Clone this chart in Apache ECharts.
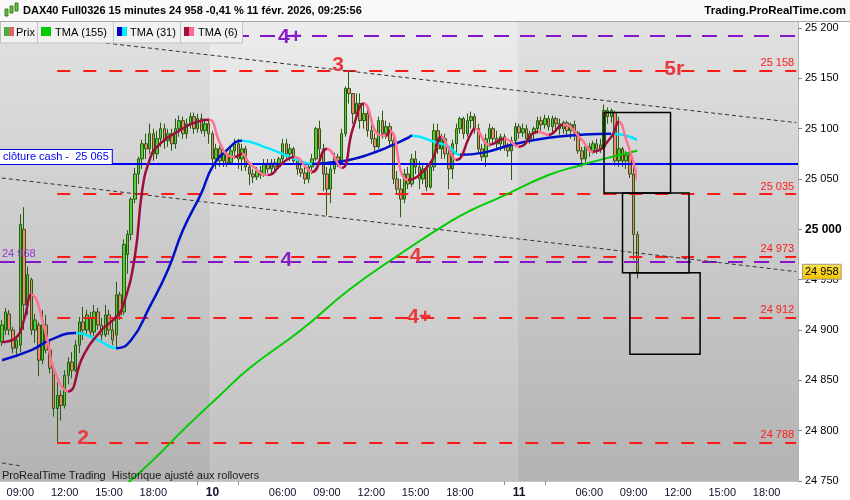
<!DOCTYPE html>
<html><head><meta charset="utf-8">
<script src="https://cdn.jsdelivr.net/npm/echarts@6/dist/echarts.min.js"></script>
<style>html,body{margin:0;padding:0;background:#fff}#c{width:850px;height:500px}</style>
</head><body><div id="c"></div>
<script>
// ---------- data ----------
const sessions = [['9','07:45','21:45'],['10','01:15','21:45'],['11','01:15','20:00']];
const labelTimes = ['06:00','09:00','12:00','15:00','18:00'];
const minorTickTimes = ['03:00','21:00'];
const yTickValues = [24750,24800,24850,24900,24950,25000,25050,25100,25150,25200];

// [open, close, low, high] per 15-minute bar
const ohlc = [
// day 9
[24888,24905,24884,24910],[24900,24918,24895,24922],[24916,24900,24895,24920],[24900,24882,24877,24903],
[24882,24890,24873,24893],[24885,25005,24878,25015],[25000,24925,24900,25022],[24925,24955,24915,24963],
[24950,24900,24895,24952],[24900,24910,24887,24916],[24905,24870,24854,24908],[24870,24905,24866,24920],
[24905,24880,24877,24915],[24880,24862,24857,24890],[24862,24822,24814,24865],[24822,24835,24788,24848],
[24835,24825,24810,24840],[24825,24855,24822,24860],[24855,24868,24846,24873],[24868,24860,24852,24878],
[24860,24885,24858,24890],[24885,24908,24877,24913],[24908,24900,24890,24923],[24900,24915,24895,24920],
[24912,24898,24893,24918],[24898,24918,24894,24925],[24918,24905,24900,24922],[24905,24895,24890,24912],
[24895,24915,24893,24925],[24915,24900,24895,24920],[24900,24890,24885,24910],[24895,24935,24883,24948],
[24935,24915,24910,24938],[24918,24985,24915,24990],[24975,24995,24956,24999],[24995,25030,24989,25032],
[25030,25055,25026,25061],[25055,25070,25045,25072],[25070,25085,25060,25089],[25085,25080,25070,25095],
[25080,25095,25075,25105],[25095,25075,25068,25100],[25075,25090,25070,25098],[25090,25100,25082,25106],
[25100,25088,25080,25105],[25088,25095,25082,25100],[25095,25085,25078,25100],[25085,25100,25080,25110],
[25100,25108,25092,25113],[25108,25095,25090,25112],[25095,25105,25090,25110],[25105,25112,25100,25116],
[25112,25100,25095,25116],[25100,25110,25096,25115],[25110,25098,25095,25115],[25098,25105,25092,25110],
[25105,25095,25085,25108],
// day 10
[25095,25070,25062,25098],[25070,25080,25060,25085],[25080,25068,25062,25083],[25068,25075,25062,25080],
[25075,25066,25062,25080],[25066,25078,25064,25082],[25078,25085,25070,25090],[25085,25070,25060,25090],
[25070,25080,25058,25085],[25080,25062,25058,25083],[25062,25055,25044,25066],[25055,25052,25046,25060],
[25052,25058,25049,25062],[25058,25054,25050,25063],[25054,25065,25052,25070],[25065,25060,25056,25070],
[25060,25066,25056,25070],[25066,25062,25058,25070],[25062,25070,25060,25072],[25070,25085,25066,25090],
[25085,25075,25070,25090],[25075,25080,25068,25085],[25080,25068,25065,25082],[25068,25060,25054,25070],
[25060,25056,25052,25066],[25056,25050,25045,25062],[25050,25062,25046,25066],[25062,25070,25055,25075],
[25070,25100,25068,25102],[25100,25080,25070,25108],[25080,25055,25038,25085],[25055,25040,25014,25062],
[25040,25060,25026,25066],[25060,25072,25055,25076],[25072,25066,25062,25075],[25066,25095,25064,25100],
[25095,25140,25092,25142],[25140,25135,25125,25158],[25135,25115,25105,25135],[25115,25125,25110,25135],
[25125,25108,25100,25135],[25108,25115,25100,25125],[25115,25098,25092,25120],[25098,25090,25085,25105],
[25090,25082,25078,25095],[25082,25108,25080,25112],[25108,25095,25090,25118],[25095,25102,25090,25108],
[25102,25088,25082,25106],[25088,25050,25045,25092],[25050,25040,25035,25058],[25040,25030,25012,25050],
[25030,25055,25026,25060],[25055,25045,25040,25062],[25045,25070,25042,25075],[25070,25062,25055,25078],
[25062,25050,25040,25068],[25050,25060,25045,25065],[25060,25042,25038,25065],[25042,25062,25040,25068],
[25062,25098,25058,25105],[25098,25080,25075,25105],[25080,25090,25070,25095],[25090,25075,25070,25095],
[25075,25060,25040,25082],[25060,25085,25050,25089],[25085,25100,25075,25105],[25100,25110,25095,25112],
[25110,25095,25090,25112],[25095,25108,25092,25115],[25108,25112,25100,25117],[25112,25100,25095,25115],
[25100,25080,25075,25105],[25080,25072,25068,25085],[25072,25090,25062,25095],[25090,25100,25082,25105],
[25100,25090,25085,25102],[25090,25085,25080,25098],[25085,25092,25078,25095],[25092,25082,25078,25095],
[25082,25078,25072,25086],[25078,25088,25049,25092],[25088,25102,25085,25106],
// day 11
[25102,25096,25090,25105],[25096,25100,25092,25105],[25100,25090,25085,25104],[25090,25095,25085,25098],
[25095,25100,25088,25102],[25100,25108,25095,25112],[25108,25104,25098,25112],[25104,25110,25100,25114],
[25110,25102,25098,25113],[25102,25110,25096,25113],[25110,25105,25098,25112],[25105,25100,25094,25110],
[25100,25106,25095,25108],[25106,25098,25092,25108],[25098,25104,25090,25106],[25104,25096,25088,25108],
[25096,25078,25075,25098],[25078,25070,25062,25082],[25070,25082,25066,25085],[25082,25078,25072,25086],
[25078,25085,25075,25088],[25085,25080,25075,25090],[25080,25084,25076,25090],[25082,25118,25079,25124],
[25118,25112,25105,25121],[25112,25118,25106,25120],[25116,25068,25063,25118],[25068,25080,25062,25112],
[25080,25068,25062,25082],[25068,25074,25060,25078],[25074,25055,25051,25080],[25055,24995,24970,25062],
[24995,24958,24951,24998]
];

// indicator lines: [bar index, value]
const tma155 = [[34,24748],[41,24771],[50,24804],[59,24835],[67,24862],[81,24900],[94,24940],[108,24976],
  [121,25007],[127,25019],[135,25032],[148,25054],[157,25064],[164,25071],[172,25078]];
const tma31 = [[0,24870],[8,24880],[13,24890],[20,24897],[26,24890],[31,24882],[35,24890],[40,24923],[45,24960],
  [49,24999],[54,25036],[57,25062],[61,25079],[65,25088],[71,25082],[76,25075],[80,25069],[84,25065],[88,25066],
  [94,25069],[99,25074],[104,25081],[110,25091],[111,25093],[117,25087],[121,25082],[124,25074],[130,25076],
  [139,25085],[148,25091],[157,25094],[165,25095],[168,25094],[172,25089]];
const tma6 = [[0,24888],[4,24893],[6,24910],[8,24935],[12,24895],[14,24862],[18,24839],[22,24874],[27,24900],
  [31,24913],[33,24926],[36,24973],[38,25039],[40,25069],[42,25082],[48,25098],[54,25108],[56,25109],[59,25086],
  [61,25074],[63,25072],[65,25075],[67,25066],[72,25054],[76,25066],[79,25072],[83,25059],[84,25057],[88,25080],
  [92,25061],[95,25100],[98,25125],[102,25094],[104,25093],[105,25098],[110,25049],[116,25066],[119,25092],
  [121,25080],[123,25069],[127,25095],[128,25100],[132,25084],[136,25090],[140,25082],[145,25097],[148,25094],
  [152,25104],[157,25089],[160,25077],[165,25092],[167,25107],[169,25089],[171,25066],[172,25049]];

const redLevels = [25158, 25035, 24973, 24912, 24788];
const redLevelStart = 15;
const purpleLevels = [25192, 24968];
const cashClose = 25065;
const lastPrice = 24958;
const upperTrend = [[0,25197],[215,25106]];
const lowerTrend = [[0,25051],[215,24958]];
const bottomTrend = [[0,24768],[5,24765]];
const boxes = [[163.3,25116,181.4,25036],[168.4,25036,186.3,24957],[170.3,24957,188.5,24876]];
const redMarks = [['3',91,25158],['5r',182,25158],['2',22,24788],['4',112,24973],['4+',113,24912]];
const purpleMarks = [['4',77,24968],['4+',78,25192]];

// ---------- build ----------
const Y_MIN = 24750, Y_MAX = 25206;
const fmt = v => String(v).replace(/\B(?=(\d{3})+(?!\d))/g, ' ');
const hm = s => { const [h, m] = s.split(':').map(Number); return h * 60 + m; };
const hhmm = t => String(Math.floor(t / 60)).padStart(2, '0') + ':' + String(t % 60).padStart(2, '0');
const categories = [], labelAt = new Map(), tickAt = new Set(), dayRanges = [];
sessions.forEach(([day, first, last], si) => {
  const startIdx = categories.length;
  for (let t = hm(first); t <= hm(last); t += 15) {
    const idx = categories.length, time = hhmm(t);
    categories.push(day + ' ' + time);
    if (t === hm(first) && si > 0) labelAt.set(idx, '{d|' + day + '}');
    else if (labelTimes.includes(time)) labelAt.set(idx, time);
    if (minorTickTimes.includes(time)) tickAt.add(idx);
  }
  dayRanges.push([startIdx, categories.length - 1, si % 2]);
});
const lastIdx = categories.length - 1;

function dirPieces(pts, upC, downC) {
  const pieces = [];
  for (let k = 0; k < pts.length - 1; k++) {
    const c = pts[k + 1][1] >= pts[k][1] ? upC : downC;
    const last = pieces[pieces.length - 1];
    if (last && last.color === c) last.lt = pts[k + 1][0];
    else pieces.push({ gte: pts[k][0], lt: pts[k + 1][0], color: c });
  }
  const p = pieces[pieces.length - 1]; p.lte = p.lt; delete p.lt;
  return pieces;
}

const RED = '#ff1a1a', PURPLE = '#8316c9', BLUE = '#0000f0';
const CLEAR = 'rgba(0,0,0,0)';
const bgGrad = alt => new echarts.graphic.LinearGradient(0, 0, 0, 1, alt
  ? [{ offset: 0, color: '#ececec' }, { offset: 1, color: '#bfbfbf' }]
  : [{ offset: 0, color: '#e1e1e1' }, { offset: 1, color: '#b3b3b3' }]);

const series = [];
series.push({
  type: 'custom', z: 0, silent: true, clip: true,
  data: dayRanges.map(r => [r[0], Y_MAX, r[1], r[2]]),
  encode: { x: 0, y: 1 },
  renderItem: (params, api) => {
    const r = dayRanges[params.dataIndex];
    const bw = api.size([1, 0])[0];
    const p0 = api.coord([r[0], Y_MAX]), p1 = api.coord([r[1], Y_MIN]);
    return { type: 'rect', shape: { x: p0[0] - bw / 2, y: p0[1], width: p1[0] - p0[0] + bw, height: p1[1] - p0[1] },
      style: { fill: bgGrad(r[2] === 1) } };
  }
});
const dashRed = [13, 13], dashPurple = [15, 11];
const levelMarks = [];
redLevels.forEach(v => levelMarks.push([
  { coord: [redLevelStart, v], lineStyle: { color: RED, width: 2, type: dashRed },
    label: { show: true, position: 'insideEndTop', distance: [2, 2], formatter: fmt(v), color: RED, fontSize: 11, fontFamily: 'Liberation Sans, Arial' } },
  { coord: [lastIdx, v] }
]));
purpleLevels.forEach((v, k) => levelMarks.push({
  yAxis: v, lineStyle: { color: PURPLE, width: 2, type: dashPurple },
  label: k === 1 ? { show: true, position: 'insideStartTop', distance: [2, 2], formatter: fmt(v), color: '#9038d0', fontSize: 11, fontFamily: 'Liberation Sans, Arial' } : { show: false }
}));
levelMarks.push({
  yAxis: cashClose, lineStyle: { color: BLUE, width: 2, type: 'solid' },
  label: { show: true, position: 'insideStartTop', distance: [0, 0], formatter: 'clôture cash -  ' + fmt(cashClose),
    color: BLUE, fontSize: 11, fontFamily: 'Liberation Sans, Arial', backgroundColor: '#fff', borderColor: BLUE, borderWidth: 1, padding: [2, 3, 1, 3] }
});
levelMarks.push({
  yAxis: lastPrice, lineStyle: { color: CLEAR, width: 1, opacity: 1 },
  label: { show: true, position: 'end', distance: 5, formatter: fmt(lastPrice), color: '#000', fontSize: 11, fontFamily: 'Liberation Sans, Arial', opacity: 1,
    backgroundColor: new echarts.graphic.LinearGradient(0, 0, 0, 1, [{ offset: 0, color: '#ffe44a' }, { offset: 1, color: '#f2c200' }]),
    borderColor: '#9a9a9a', borderWidth: 1, padding: [2, 2, 1, 2] }
});
series.push({
  type: 'candlestick', z: 2, barWidth: 3,
  data: ohlc,
  itemStyle: { color: '#55cf33', color0: '#f08676', borderColor: '#2b5a12', borderColor0: '#2b5a12', borderWidth: 1 },
  markLine: { symbol: 'none', silent: true, animation: false, data: levelMarks }
});
const trendStyle = { color: '#333', width: 1, type: [4, 3] };
[upperTrend, lowerTrend, bottomTrend].forEach(t => series.push({ type: 'line', z: 6, data: t, showSymbol: false, silent: true, lineStyle: trendStyle }));
const maIdx = {};
maIdx.t155 = series.length;
series.push({ type: 'line', z: 7, data: tma155, smooth: true, showSymbol: false, lineStyle: { width: 2, color: '#00cc00' } });
maIdx.t31 = series.length;
series.push({ type: 'line', z: 7, data: tma31, smooth: true, showSymbol: false, lineStyle: { width: 2.5 } });
maIdx.t6 = series.length;
series.push({ type: 'line', z: 8, data: tma6, smooth: true, showSymbol: false, lineStyle: { width: 2.5 } });
series.push({
  type: 'custom', z: 9, silent: true,
  data: boxes.map(b => [b[0], b[1]]), encode: { x: 0, y: 1 },
  renderItem: (params, api) => {
    const b = boxes[params.dataIndex];
    const p0 = api.coord([b[0], b[1]]), p1 = api.coord([b[2], b[3]]);
    return { type: 'rect', shape: { x: p0[0], y: p0[1], width: p1[0] - p0[0], height: p1[1] - p0[1] },
      style: { fill: 'none', stroke: '#000', lineWidth: 1.5 } };
  }
});
const markSeries = (marks, color, offs) => ({
  type: 'scatter', z: 10, silent: true, symbolSize: 1, itemStyle: { color: CLEAR },
  data: marks.map((m, k) => ({ value: [m[1], m[2]], label: { offset: [0, offs[k]] } })),
  label: { show: true, position: 'inside', formatter: p => marks[p.dataIndex][0], color, opacity: 1, fontSize: 21, fontWeight: 'bold', fontFamily: 'Liberation Sans, Arial' }
});
series.push(markSeries(redMarks, '#e8383a', [-5, -1, -5, 0, -1]));
series.push(markSeries(purpleMarks, '#8a1cc8', [-1, 1]));

const F = 'Liberation Sans, Arial, sans-serif';
const legendBoxes = [[0, 37, 'Prix', '#3cb43c', '#e06464', 16], [37, 113, 'TMA (155)', '#00cc00', '#00cc00', 55],
  [113, 180, 'TMA (31)', '#0000cc', '#00f0ff', 130], [180, 242, 'TMA (6)', '#a0103c', '#ff6a8e', 198]];
const graphics = [
  { type: 'rect', shape: { x: 0, y: 0, width: 850, height: 21 }, style: { fill: '#f9f9f9' }, z: 100 },
  { type: 'line', shape: { x1: 0, y1: 21.5, x2: 850, y2: 21.5 }, style: { stroke: '#a8a8a8', lineWidth: 1 }, z: 101 },
  { type: 'rect', shape: { x: 5, y: 9, width: 3, height: 7 }, style: { fill: '#55cf33', stroke: '#2b5a12', lineWidth: 0.8 }, z: 101 },
  { type: 'rect', shape: { x: 10, y: 6, width: 3, height: 7 }, style: { fill: '#55cf33', stroke: '#2b5a12', lineWidth: 0.8 }, z: 101 },
  { type: 'rect', shape: { x: 15, y: 3, width: 3, height: 8 }, style: { fill: '#55cf33', stroke: '#2b5a12', lineWidth: 0.8 }, z: 101 },
  { type: 'text', x: 23, y: 11, style: { text: 'DAX40 Full0326 15 minutes 24 958 -0,41 % 11 févr. 2026, 09:25:56', font: 'bold 11px ' + F, fill: '#000', textVerticalAlign: 'middle' }, z: 102 },
  { type: 'text', x: 846, y: 11, style: { text: 'Trading.ProRealTime.com', font: 'bold 11.5px ' + F, fill: '#000', textAlign: 'right', textVerticalAlign: 'middle' }, z: 102 },
  { type: 'text', x: 2, y: 476, style: { text: 'ProRealTime Trading  Historique ajusté aux rollovers', font: '11px ' + F, fill: '#1a1a1a', textVerticalAlign: 'middle' }, z: 102 }
];
legendBoxes.forEach(b => {
  graphics.push({ type: 'rect', shape: { x: b[0] + 0.5, y: 21.5, width: b[1] - b[0], height: 21.5 }, style: { fill: '#f1f1f1', stroke: '#c2c2c2', lineWidth: 1 }, z: 100 });
  graphics.push({ type: 'rect', shape: { x: b[0] + 4, y: 27, width: 5, height: 9 }, style: { fill: b[3] }, z: 101 });
  graphics.push({ type: 'rect', shape: { x: b[0] + 9, y: 27, width: 5, height: 9 }, style: { fill: b[4] }, z: 101 });
  graphics.push({ type: 'text', x: b[5], y: 32.5, style: { text: b[2], font: '11px ' + F, fill: '#000', textVerticalAlign: 'middle' }, z: 101 });
});

const chart = echarts.init(document.getElementById('c'), null, { renderer: 'canvas' });
chart.setOption({
  animation: false,
  backgroundColor: '#fff',
  grid: { left: 0, right: 52, top: 22, bottom: 19, containLabel: false },
  xAxis: {
    type: 'category', data: categories, boundaryGap: true,
    axisLine: { show: true, lineStyle: { color: '#c8c8c8' } },
    axisTick: { show: true, interval: idx => tickAt.has(idx), alignWithLabel: true, length: 4, lineStyle: { color: '#909090' } },
    axisLabel: { interval: idx => labelAt.has(idx), formatter: (v, idx) => labelAt.get(idx) || '', color: '#101028', fontSize: 11, fontFamily: F, margin: 6,
      rich: { d: { fontWeight: 'bold', fontSize: 12, color: '#101028', fontFamily: F } } },
    splitLine: { show: false }
  },
  yAxis: {
    type: 'value', position: 'right', min: Y_MIN, max: Y_MAX, interval: 50, scale: true,
    axisLine: { show: true, lineStyle: { color: '#b4b4b4' } },
    axisTick: { show: true, length: 4, lineStyle: { color: '#888' } },
    axisLabel: { margin: 7, fontSize: 11, fontFamily: F, color: '#000', showMaxLabel: false,
      formatter: v => yTickValues.includes(v) ? (v % 1000 === 0 ? '{b|' + fmt(v) + '}' : fmt(v)) : '',
      rich: { b: { fontWeight: 'bold', fontSize: 12, fontFamily: F, color: '#000' } } },
    splitLine: { show: false }
  },
  visualMap: [
    { type: 'piecewise', show: false, seriesIndex: maIdx.t31, dimension: 0, pieces: dirPieces(tma31, '#0010c8', '#00eaff') },
    { type: 'piecewise', show: false, seriesIndex: maIdx.t6, dimension: 0, pieces: dirPieces(tma6, '#9c0e3c', '#ff7094') }
  ],
  graphic: graphics,
  series
});
</script></body></html>
